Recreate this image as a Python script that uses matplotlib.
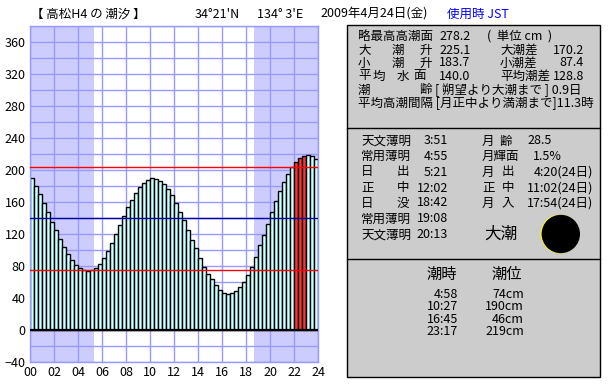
import matplotlib
matplotlib.use("Agg")
import matplotlib.pyplot as plt
from matplotlib.patches import Rectangle, Circle
import numpy as np

plt.rcParams['font.family'] = ['Noto Sans CJK JP', 'DejaVu Sans']

# tide height every 20 minutes (cm)
minutes = list(range(0, 1440, 20))
tide = [190.4, 180.4, 170.4, 158.7, 147.9, 135.8, 125.0, 114.1, 104.5, 95.4,
        88.5, 81.2, 77.5, 74.8, 74.2, 75.5, 77.5, 82.5, 90.0, 99.5,
        109.5, 120.3, 131.6, 142.9, 153.7, 162.9, 171.2, 179.5, 184.2, 187.5,
        190.0, 189.1, 186.2, 182.5, 176.6, 169.1, 158.7, 148.3, 137.9, 125.4,
        112.9, 102.5, 90.4, 79.6, 70.4, 63.7, 56.7, 50.4, 46.8, 45.8,
        47.0, 49.5, 54.5, 60.4, 69.5, 79.5, 91.6, 106.2, 119.5, 132.9,
        147.9, 162.0, 173.7, 185.4, 195.4, 204.1, 210.4, 215.4, 217.9, 219.5,
        217.5, 214.5]
red_minutes = [1320, 1340, 1360]

sunrise = "5:21"
sunset = "18:42"
mean_level = 140.0
mean_range = 128.8

xticklabels = ["00", "02", "04", "06", "08", "10", "12", "14", "16", "18", "20", "22", "24"]

tide_times = ["4:58", "10:27", "16:45", "23:17"]
tide_levels = ["74cm", "190cm", "46cm", "219cm"]


def to_hours(s):
    h, m = s.split(":")
    return int(h) + int(m) / 60


fig = plt.figure(figsize=(6.1, 3.85), dpi=100)
W, H = 610, 385

# ---- tide chart ----
ax = fig.add_axes([30 / W, 1 - 362.3 / H, 288 / W, 336 / H])
ax.set_xlim(0, 24)
ax.set_ylim(-40, 380)
ax.axvspan(0, to_hours(sunrise), color='#CCCCFF', lw=0, zorder=0.2)
ax.axvspan(to_hours(sunset), 24, color='#CCCCFF', lw=0, zorder=0.2)
ax.set_axisbelow(True)

hours = np.array(minutes) / 60
colors = ['#FF3333' if m in red_minutes else '#CCFFFF' for m in minutes]
ax.bar(hours, tide, width=1 / 3, align='edge', color=colors,
       edgecolor='black', linewidth=1.0, zorder=2)

ax.axhline(mean_level, color='#0000A0', lw=1.0, zorder=3)
ax.axhline(mean_level + mean_range / 2, color='#FF0000', lw=1.0, zorder=3)
ax.axhline(mean_level - mean_range / 2, color='#FF0000', lw=1.0, zorder=3)
ax.axhline(0, color='black', lw=1.6, zorder=4)

ax.set_xticks(range(0, 25, 2))
ax.set_xticklabels(xticklabels)
ax.set_yticks(range(-40, 381, 40))
ax.set_yticks(range(-40, 381, 20), minor=True)
ax.grid(which='both', color='#9999FF', lw=1.0)
ax.tick_params(which='both', length=0, labelsize=9, pad=3)
for sp in ax.spines.values():
    sp.set_color('#9999FF')
    sp.set_linewidth(1.0)

# ---- overlay in pixel coordinates ----
ov = fig.add_axes([0, 0, 1, 1], zorder=5)
ov.set_xlim(0, W)
ov.set_ylim(H, 0)
ov.axis('off')
ov.patch.set_alpha(0)


def t(x, y, s, ha='left', size=9, color='black', **kw):
    ov.text(x, y, s, ha=ha, va='center', fontsize=size, color=color, **kw)


# header
t(31, 14, "【 高松H4 の 潮汐 】")
t(195, 14, "34°21'N")
t(257, 14, "134° 3'E")
t(320, 14, "2009年4月24日(金)")
t(447, 14, "使用時 JST", color='#0000FF')

# info panel
ov.add_patch(Rectangle((347, 25), 253, 352, facecolor='#CCCCCC',
                       edgecolor='black', lw=1.0))
ov.plot([347, 600], [128, 128], color='black', lw=1.0)
ov.plot([347, 600], [259, 259], color='black', lw=1.0)

# block 1
t(358, 36, "略最高高潮面")
t(439, 36, "278.2")
t(487, 36, "(  単位 cm  )")
for y, c in [(50, "大"), (63, "小")]:
    t(358, y, c)
    t(392, y, "潮")
    t(420, y, "升")
t(439, 50, "225.1")
t(500, 50, "大潮差")
t(553, 50, "170.2")
t(439, 63, "183.7")
t(500, 63, "小潮差")
t(559, 63, "87.4")
t(358, 76, "平")
t(373, 76, "均")
t(397, 76, "水")
t(413, 76, "面")
t(439, 76, "140.0")
t(500, 76, "平均潮差")
t(553, 76, "128.8")
t(358, 90, "潮")
t(419, 90, "齢")
t(435, 90, "[ 朔望より大潮まで ] 0.9日")
t(358, 103, "平均高潮間隔 [月正中より満潮まで]11.3時")

# block 2
rows_y = [141, 156, 172, 188, 203, 219, 235]
t(361, rows_y[0], "天文薄明")
t(361, rows_y[1], "常用薄明")
t(361, rows_y[2], "日")
t(397, rows_y[2], "出")
t(361, rows_y[3], "正")
t(397, rows_y[3], "中")
t(361, rows_y[4], "日")
t(397, rows_y[4], "没")
t(361, rows_y[5], "常用薄明")
t(361, rows_y[6], "天文薄明")
for y, s in zip(rows_y, ["3:51", "4:55", "5:21", "12:02", "18:42", "19:08", "20:13"]):
    t(448, y, s, ha='right')

t(482, rows_y[0], "月")
t(500, rows_y[0], "齢")
t(527, rows_y[0], "28.5")
t(482, rows_y[1], "月輝面")
t(533, rows_y[1], "1.5%")
for y, a, b, s in [(rows_y[2], "月", "出", "4:20(24日)"),
                   (rows_y[3], "正", "中", "11:02(24日)"),
                   (rows_y[4], "月", "入", "17:54(24日)")]:
    t(482, y, a)
    t(502, y, b)
    t(593, y, s, ha='right')

t(501, 234, "大潮", ha='center', size=12)
ov.add_patch(Circle((560, 234), 19.5, facecolor='#FFFF00', edgecolor='none'))
ov.add_patch(Circle((560.8, 234), 19.2, facecolor='black', edgecolor='none'))

# block 3
t(442, 274, "潮時", ha='center', size=11)
t(507, 274, "潮位", ha='center', size=11)
t(458, 313, "\n".join(tide_times), ha='right', size=9, multialignment='right', linespacing=0.92)
t(524, 313, "\n".join(tide_levels), ha='right', size=9, multialignment='right', linespacing=0.92)

fig.savefig("out.png", dpi=100)
